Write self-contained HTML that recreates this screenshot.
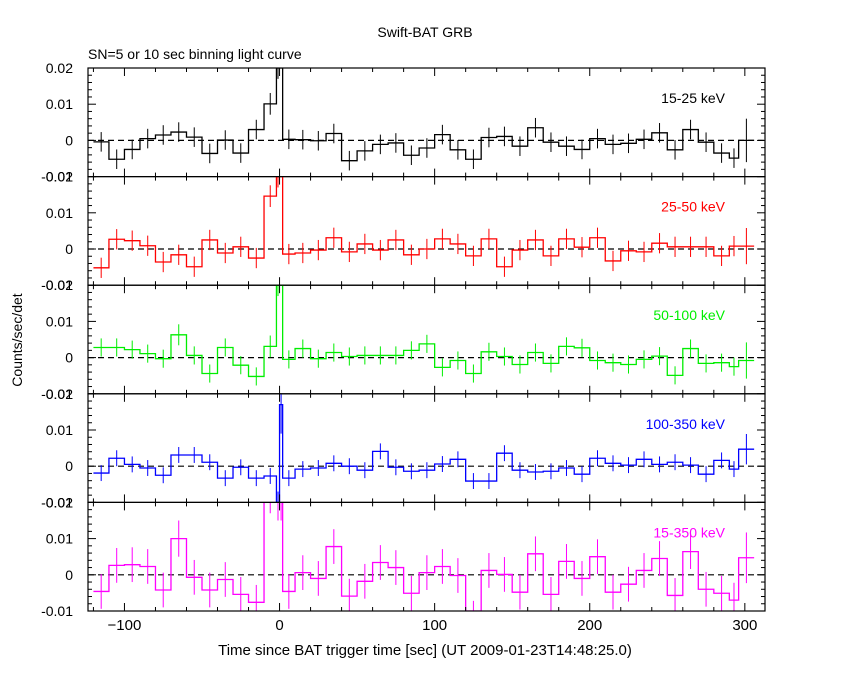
<!DOCTYPE html>
<html><head><meta charset="utf-8"><style>
body{margin:0;background:#fff;}
svg{display:block;font-family:"Liberation Sans",sans-serif;}
</style></head><body>
<svg id="chart" width="850" height="680" viewBox="0 0 850 680">
<rect width="850" height="680" fill="#fff"/>
<text x="425" y="37" font-size="14" text-anchor="middle">Swift-BAT GRB</text>
<text x="88" y="59" font-size="14">SN=5 or 10 sec binning light curve</text>
<text transform="translate(22,340) rotate(-90)" font-size="14" text-anchor="middle">Counts/sec/det</text>
<text x="425" y="655" font-size="15" text-anchor="middle">Time since BAT trigger time [sec] (UT 2009-01-23T14:48:25.0)</text>
<g id="plots"></g>
</svg>
<script>
// bin edges (seconds)
const binLo = [-120,-110,-100,-90,-80,-70,-60,-50,-40,-30,-20,-10,-2,0,2,10,20,30,40,50,60,70,80,90,100,110,120,130,140,150,160,170,180,190,200,210,220,230,240,250,260,270,280,290,296];
const binHi = [-110,-100,-90,-80,-70,-60,-50,-40,-30,-20,-10,-2,0,2,10,20,30,40,50,60,70,80,90,100,110,120,130,140,150,160,170,180,190,200,210,220,230,240,250,260,270,280,290,296,306];
// rates in units of 0.001 counts/sec/det
const rate15_25 = [-0.4,-5.2,-2.5,0.5,1.5,2.3,0.9,-3.6,0.1,-3.5,3.0,10.1,25,30,0.3,0.2,-0.1,1.9,-5.6,-2.9,-1.1,-0.7,-4.1,-2.1,1.6,-2.6,-5.2,0.8,1.1,-1.6,3.5,-0.5,-1.6,-2.5,0.5,-1.1,-0.8,0.3,2.1,-2.6,3.0,-0.5,-3.5,-4.9,0];
const rate25_50 = [-5.2,2.7,2.3,0.9,-3.6,-1.6,-4.9,2.5,-1.1,0.6,-2.5,14.6,25,30,-1.4,-1.1,-0.3,3.1,-0.8,1.4,-0.3,2.5,-1.6,0,2.8,1.4,-1.9,2.8,-4.9,-0.3,2.5,-1.9,2.8,0.5,3.1,-3.3,-0.5,-0.8,1.6,0.6,0.6,0.6,-1.9,0.8,0.8];
const rate50_100 = [2.8,2.8,2.2,1.1,-0.3,6.3,0.6,-4.4,2.8,-2.1,-5.2,3.1,25,30,-0.5,2.5,-0.3,1.4,0.3,0.6,0.6,0.6,2.0,3.8,-2.7,-0.8,-4.4,1.6,0.3,-1.9,1.4,-1.6,3.1,2.7,-0.8,-1.4,-1.9,-0.5,0.4,-4.9,2.5,-1.6,-1.4,-2.5,-0.8];
const rate100_350 = [-1.9,2.2,0.5,-0.5,-2.5,3.1,3.1,1.1,-3.3,-0.3,-3.3,-2.7,-15,17,-3.3,-0.8,-0.5,0.8,0,-1.1,4.1,-0.3,-1.4,-1.1,0.6,1.9,-4.1,-4.1,3.6,-1.1,-1.6,-1.4,-0.5,-2.2,2.2,0.8,0.3,1.9,0.5,1.1,0.3,-2.2,1.6,-0.8,4.7];
const rate15_350 = [-4.6,2.6,2.8,2.3,-4.2,10.0,-0.7,-4.2,-1.3,-5.4,-7.6,25,25,25,-4.6,0.6,-1.0,7.8,-5.9,-1.8,3.4,2.0,-5.1,0.6,2.3,-0.2,-12,1.2,0.1,-4.8,5.8,-5.4,3.7,-1.0,5.0,-4.8,-2.6,1.2,4.5,-5.7,6.4,-4.0,-5.1,-7.0,4.7];
// 1-sigma errors (same units)
const err15_25 = [2.7,2.7,2.7,2.7,2.7,2.7,2.7,2.7,2.7,2.7,2.7,3.0,8,8,2.7,2.7,2.7,2.7,2.7,2.7,2.7,2.7,2.7,2.7,2.7,2.7,2.7,2.7,2.7,2.7,2.7,2.7,2.7,2.7,2.7,2.7,2.7,2.7,2.7,2.7,2.7,2.7,2.7,2.7,6];
const err25_50 = [2.8,2.8,2.8,2.8,2.8,2.8,2.8,2.8,2.8,2.8,2.8,3.0,8,8,2.8,2.8,2.8,2.8,2.8,2.8,2.8,2.8,2.8,2.8,2.8,2.8,2.8,2.8,2.8,2.8,2.8,2.8,2.8,2.8,2.8,2.8,2.8,2.8,2.8,2.8,2.8,2.8,2.8,2.8,5];
const err50_100 = [2.5,2.5,2.5,2.5,2.5,2.9,2.5,2.5,2.5,2.5,2.5,3.0,8,8,2.5,2.5,2.5,2.5,2.5,2.5,2.5,2.5,2.5,2.5,2.5,2.5,2.5,2.5,2.5,2.5,2.5,2.5,2.5,2.5,2.5,2.5,2.5,2.5,2.5,2.5,2.5,2.5,2.5,2.5,5];
const err100_350 = [2.2,2.2,2.2,2.2,2.2,2.2,2.2,2.2,2.2,2.2,2.2,2.2,8,8,2.2,2.2,2.2,2.2,2.2,2.2,2.2,2.2,2.2,2.2,2.2,2.2,2.2,2.2,2.2,2.2,2.2,2.2,2.2,2.2,2.2,2.2,2.2,2.2,2.2,2.2,2.2,2.2,2.2,2.2,4.2];
const err15_350 = [4.8,4.8,4.8,4.8,4.8,5.0,4.8,4.8,4.8,4.8,4.8,8,10,10,4.8,4.8,4.8,4.8,4.8,4.8,4.8,4.8,4.8,4.8,4.8,4.8,4.8,4.8,4.8,4.8,4.8,4.8,4.8,4.8,4.8,4.8,4.8,4.8,4.8,4.8,4.8,4.8,4.8,4.8,7];
const bandLabels = ["15-25 keV","25-50 keV","50-100 keV","100-350 keV","15-350 keV"];
const bandColors = ["#000000","#ff0000","#00ee00","#0000ff","#ff00ff"];
const xTickValues = [-100,0,100,200,300];
const yTickValues = [0.02,0.01,0,-0.01];

const series = [rate15_25,rate25_50,rate50_100,rate100_350,rate15_350];
const errors = [err15_25,err25_50,err50_100,err100_350,err15_350];
const NS="http://www.w3.org/2000/svg";
const L=88,R=765,T0=68,PH=108.6;
const XMIN=-123.5,XMAX=313,YMIN=-0.01,YMAX=0.02;
const xs=t=>L+(t-XMIN)/(XMAX-XMIN)*(R-L);
const g=document.getElementById('plots');
function mk(tag,attrs,parent){const e=document.createElementNS(NS,tag);for(const k in attrs)e.setAttribute(k,attrs[k]);(parent||g).appendChild(e);return e;}
const fmt=v=>v===0?"0":String(v);

series.forEach((vals,p)=>{
  const top=T0+p*PH,bot=top+PH;
  const ys=v=>{const y=bot-(v-YMIN)/(YMAX-YMIN)*PH;return Math.max(top,Math.min(bot,y));};
  const panel=mk('g',{});
  
  
  const cp='clip'+p;
  const cl=mk('clipPath',{id:cp},panel);mk('rect',{x:L,y:top,width:R-L,height:PH},cl);
  const z=mk('line',{x1:L,x2:R,y1:ys(0),y2:ys(0),stroke:'#000','stroke-width':1.2,'stroke-dasharray':'6,4'},panel);
  
  
  let d='';
  vals.forEach((v,i)=>{const y=ys(v/1000);d+=(i===0?'M':'L')+xs(binLo[i])+','+y+'L'+xs(binHi[i])+','+y;});
  const h=mk('path',{d:d,fill:'none',stroke:bandColors[p],'stroke-width':1.3,'clip-path':'url(#'+cp+')'},panel);
  
  
  vals.forEach((v,i)=>{
    const cx=xs((binLo[i]+binHi[i])/2);
    const e=mk('line',{x1:cx,x2:cx,y1:ys((v+errors[p][i])/1000),y2:ys((v-errors[p][i])/1000),stroke:bandColors[p],'stroke-width':1},panel);
    
    
  });
  const f=mk('rect',{x:L,y:top,width:R-L,height:PH,fill:'none',stroke:'#000','stroke-width':1.2},panel);
  
  
  for(let t=-120;t<=310;t+=20){const x=xs(t);const len=(t%100===0)?8:4;
    mk('line',{x1:x,x2:x,y1:top,y2:top+len,stroke:'#000'},panel);mk('line',{x1:x,x2:x,y1:bot,y2:bot-len,stroke:'#000'},panel);}
  for(let k=-5;k<=10;k++){const v=k*0.002;const y=ys(v);const len=(k%5===0)?8:4;
    mk('line',{x1:L,x2:L+len,y1:y,y2:y,stroke:'#000'},panel);mk('line',{x1:R,x2:R-len,y1:y,y2:y,stroke:'#000'},panel);}
  yTickValues.forEach(v=>{const tx=mk('text',{x:73,y:ys(v)+5,'font-size':14,'text-anchor':'end'},panel);tx.textContent=fmt(v);
    
    });
  const lb=mk('text',{x:725,y:top+35,'font-size':14,'text-anchor':'end',fill:bandColors[p]},panel);
  lb.textContent=bandLabels[p];
  
  
});
xTickValues.forEach(t=>{const tx=mk('text',{x:xs(t),y:630,'font-size':15,'text-anchor':'middle'});tx.textContent=t<0?'\u2212'+(-t):String(t);
  
  });
</script>
</body></html>
